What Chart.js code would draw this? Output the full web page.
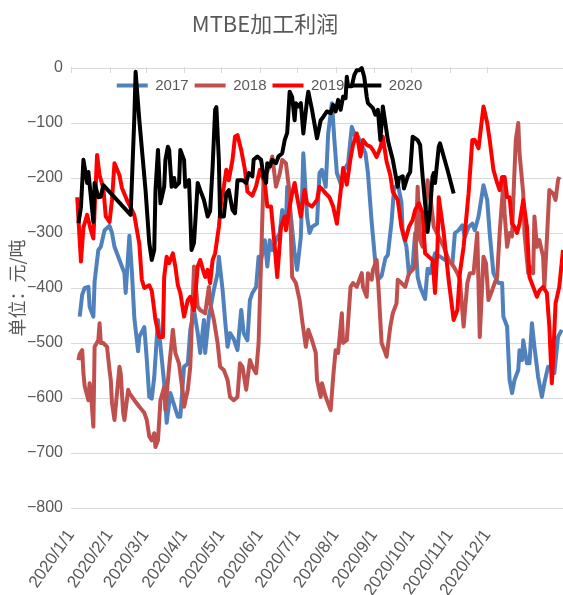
<!DOCTYPE html>
<html><head><meta charset="utf-8">
<script src="https://cdn.jsdelivr.net/npm/chart.js@4"></script>
<style>html,body{margin:0;padding:0;background:#fff;overflow:hidden}</style>
</head><body>
<canvas id="c" width="563" height="595"></canvas>
<script>
const chartTitle = 'MTBE加工利润';
const yAxisTitle = '单位：元/吨';
const seriesNames = ['2017', '2018', '2019', '2020'];
const seriesColors = ['#4F81BD', '#C0504D', '#FF0000', '#000000'];
// day offsets from Jan 1 of the month starts (category ticks)
const monthStarts = [0, 31, 60, 91, 121, 152, 182, 213, 244, 274, 305, 335];
const tickLabels = ['2020/1/1','2020/2/1','2020/3/1','2020/4/1','2020/5/1','2020/6/1','2020/7/1','2020/8/1','2020/9/1','2020/10/1','2020/11/1','2020/12/1'];

const days2017 = [7,9,11,14,15,18,19,22,24,26,27,31,33,35,39,43,44,47,49,51,54,55,59,61,63,65,67,70,72,75,77,80,84,86,88,91,94,96,99,102,104,107,108,111,112,115,118,119,122,124,126,128,131,134,137,139,142,144,146,149,151,153,156,158,160,162,165,168,170,173,174,177,180,182,185,187,190,192,194,198,200,202,205,207,210,212,214,218,220,223,226,229,231,234,237,239,242,245,247,250,253,255,258,260,263,266,267,270,272,275,277,279,281,285,287,289,293,297,301,307,309,312,315,317,320,323,325,328,332,335,337,340,344,347,348,351,353,355,357,360,361,363,364,367,369,371,373,376,379,381,384,387,389,392,395];
const vals2017 = [-452,-412,-400,-398,-434,-452,-388,-331,-325,-305,-295,-287,-300,-325,-349,-373,-409,-305,-370,-455,-515,-489,-471,-530,-598,-601,-562,-458,-505,-573,-645,-591,-620,-634,-634,-543,-538,-476,-440,-482,-518,-458,-518,-452,-440,-403,-373,-343,-403,-458,-507,-482,-493,-513,-440,-482,-495,-422,-409,-398,-343,-349,-313,-361,-313,-331,-313,-300,-258,-289,-216,-270,-337,-367,-307,-155,-270,-300,-289,-283,-191,-185,-216,-119,-64,-131,-191,-216,-185,-173,-107,-125,-125,-140,-155,-191,-280,-355,-385,-378,-346,-340,-280,-220,-210,-245,-300,-325,-375,-358,-300,-380,-398,-420,-365,-373,-337,-343,-349,-355,-300,-295,-286,-307,-289,-283,-295,-270,-213,-240,-300,-373,-391,-391,-452,-470,-567,-591,-567,-549,-513,-531,-495,-537,-537,-464,-507,-562,-598,-573,-543,-543,-555,-489,-476];

const days2018 = [6,7,9,10,11,14,15,16,18,19,22,23,24,26,29,31,32,33,35,39,40,42,43,46,47,51,55,59,61,63,65,67,68,70,72,75,76,79,82,84,87,90,91,94,96,99,102,104,108,111,112,115,118,120,123,126,128,131,134,136,138,141,144,146,149,151,153,155,157,160,162,165,168,170,173,176,178,181,184,186,189,191,194,197,198,201,202,205,209,211,213,215,218,219,222,225,227,230,234,235,238,239,242,243,246,247,250,253,254,257,259,262,263,266,269,272,275,277,279,281,283,285,287,289,292,296,300,304,308,311,313,316,319,321,324,327,329,332,334,336,339,341,343,345,348,349,351,353,355,356,358,360,361,364,365,368,369,372,373,375,377,380,381,383,385,388,390,392,393];
const vals2018 = [-531,-520,-513,-555,-578,-604,-573,-589,-652,-507,-495,-464,-500,-500,-507,-549,-567,-609,-640,-543,-555,-627,-640,-585,-591,-604,-616,-627,-640,-670,-677,-664,-689,-677,-604,-580,-622,-543,-476,-518,-538,-591,-616,-585,-543,-361,-434,-440,-446,-398,-428,-458,-500,-543,-549,-567,-598,-604,-598,-537,-543,-585,-531,-543,-555,-500,-349,-198,-192,-179,-161,-216,-192,-167,-173,-228,-380,-391,-422,-458,-507,-476,-495,-518,-567,-598,-573,-598,-622,-562,-513,-518,-446,-500,-495,-398,-391,-398,-373,-398,-416,-373,-385,-367,-349,-380,-500,-518,-525,-470,-446,-428,-385,-391,-398,-373,-367,-361,-216,-313,-325,-276,-204,-228,-289,-307,-325,-349,-361,-373,-385,-470,-391,-373,-373,-300,-489,-343,-355,-422,-404,-391,-380,-300,-209,-264,-325,-300,-306,-240,-131,-100,-155,-228,-300,-373,-361,-373,-270,-325,-313,-343,-398,-313,-222,-228,-240,-204,-198];

const days2019 = [5,8,10,13,16,18,21,23,26,28,31,33,35,39,41,45,49,51,55,57,59,63,65,67,68,71,74,75,77,79,82,84,86,88,91,94,96,99,102,104,107,108,110,112,114,116,119,121,123,125,127,130,132,134,137,140,142,146,149,152,156,158,161,164,166,169,172,173,176,178,180,182,185,188,190,194,198,200,202,205,208,211,214,217,219,222,225,227,230,233,235,238,241,243,246,249,251,254,257,259,263,266,269,272,275,277,280,283,285,288,291,293,295,296,300,304,308,311,313,316,320,323,325,328,332,335,337,340,343,345,347,349,351,353,355,357,359,361,364,367,369,372,375,377,380,383,385,387,388,390,393,396];
const vals2019 = [-235,-352,-290,-267,-295,-310,-158,-195,-218,-270,-280,-240,-173,-195,-218,-240,-258,-268,-320,-385,-400,-395,-405,-440,-458,-489,-489,-380,-343,-355,-337,-361,-395,-409,-452,-422,-416,-440,-361,-349,-373,-380,-367,-391,-349,-337,-289,-240,-216,-185,-204,-167,-125,-122,-149,-185,-225,-232,-215,-185,-209,-252,-252,-325,-380,-289,-270,-295,-252,-228,-209,-235,-270,-222,-246,-252,-240,-216,-220,-228,-235,-252,-283,-225,-182,-212,-164,-140,-119,-161,-131,-140,-143,-149,-162,-145,-125,-170,-195,-225,-240,-290,-313,-289,-276,-258,-246,-264,-337,-343,-349,-409,-325,-235,-300,-386,-458,-440,-373,-325,-228,-131,-131,-146,-70,-100,-131,-185,-209,-222,-198,-198,-235,-235,-283,-289,-300,-283,-240,-289,-380,-398,-416,-405,-398,-409,-470,-573,-531,-428,-398,-331];

const days2020 = [6,8,10,13,14,18,19,22,24,26,48,51,52,55,60,63,65,67,68,70,72,75,76,78,79,81,83,84,87,88,91,92,95,97,99,102,104,107,110,112,114,116,117,119,120,123,125,127,130,132,134,138,141,143,146,147,150,153,155,157,158,160,162,165,167,170,172,174,176,178,180,181,183,185,187,190,191,194,198,201,203,206,209,211,213,215,217,219,221,222,223,226,228,230,232,234,236,238,239,243,245,247,249,251,253,255,257,259,263,264,267,268,271,273,275,279,281,283,286,287,289,291,292,293,296,297,300,303,308];
const vals2020 = [-282,-253,-167,-209,-189,-280,-209,-235,-234,-213,-267,-89,-7,-95,-222,-318,-349,-331,-222,-149,-246,-216,-167,-143,-149,-216,-200,-216,-209,-149,-167,-216,-204,-331,-318,-209,-222,-240,-270,-260,-179,-76,-71,-167,-270,-270,-228,-222,-258,-264,-204,-204,-209,-191,-197,-167,-161,-167,-197,-209,-173,-179,-167,-173,-161,-155,-131,-118,-43,-53,-95,-64,-70,-64,-119,-58,-43,-76,-128,-95,-89,-79,-82,-67,-79,-58,-76,-52,-55,-16,-33,-33,-13,-4,-4,0,-16,-52,-64,-73,-85,-76,-131,-70,-100,-131,-149,-167,-216,-200,-197,-219,-197,-189,-125,-131,-140,-197,-270,-298,-258,-197,-191,-209,-143,-137,-161,-185,-228];

const allDays = [days2017, days2018, days2019, days2020];
const allVals = [vals2017, vals2018, vals2019, vals2020];

const TEXT = '#595959';
const NARROW = '"Liberation Sans Narrow", "Arial Narrow", "Liberation Sans", sans-serif';

const tickMarks = {
  id: 'tickMarks',
  beforeDatasetsDraw(chart) {
    const {ctx, scales: {x, y}} = chart;
    const y0 = y.getPixelForValue(0);
    ctx.save();
    ctx.strokeStyle = '#D9D9D9';
    ctx.lineWidth = 1;
    monthStarts.forEach(v => {
      const px = Math.round(x.getPixelForValue(v)) + 0.5;
      ctx.beginPath(); ctx.moveTo(px, y0 - 1); ctx.lineTo(px, y0 + 5); ctx.stroke();
    });
    ctx.restore();
  }
};

const customTitle = {
  id: 'customTitle',
  afterDraw(chart) {
    const ctx = chart.ctx;
    ctx.save();
    ctx.fillStyle = TEXT;
    ctx.font = '22px "Liberation Sans Narrow", "Noto Sans CJK SC", sans-serif';
    ctx.textAlign = 'center';
    ctx.textBaseline = 'middle';
    ctx.fillText(chartTitle, 265, 24);
    ctx.restore();
  }
};

const legendInside = {
  id: 'legendInside',
  afterInit(chart) {
    const lg = chart.legend;
    const fit = lg.fit;
    lg.fit = function () { fit.call(this); this.height = 0; };
  },
  afterLayout(chart) {
    const lg = chart.legend;
    lg.left -= 12; lg.right -= 12;
    lg.top += 4; lg.height = 30; lg.bottom = lg.top + 30;
  }
};

new Chart(document.getElementById('c'), {
  type: 'line',
  data: {
    datasets: seriesNames.map((name, k) => ({
      label: name,
      data: allDays[k].map((d, i) => ({x: d, y: allVals[k][i]})),
      borderColor: seriesColors[k],
      backgroundColor: seriesColors[k],
      borderWidth: 4,
      pointRadius: 0,
      tension: 0,
      fill: false,
      clip: false,
      borderJoinStyle: 'round',
      order: 4 - k
    }))
  },
  options: {
    responsive: false,
    animation: false,
    devicePixelRatio: 1,
    layout: {padding: {top: 68, left: 0, right: 0, bottom: 0}},
    plugins: {
      legend: {
        display: true, position: 'top', align: 'center',
        labels: {usePointStyle: true, pointStyle: 'line', pointStyleWidth: 31, boxHeight: 15,
                 padding: 6, color: TEXT, font: {family: NARROW, size: 15},
                 sort: (a, b) => a.datasetIndex - b.datasetIndex}
      },
      title: {display: false},
      tooltip: {enabled: false}
    },
    scales: {
      x: {
        type: 'linear', min: 0, max: 396,
        grid: {display: false}, border: {display: false},
        afterBuildTicks: s => { s.ticks = monthStarts.map(v => ({value: v})); },
        afterFit: s => { s.height = 87; },
        ticks: {autoSkip: false, minRotation: 55, maxRotation: 55, padding: 10, color: TEXT,
                font: {family: NARROW, size: 17}, callback: (v, i) => tickLabels[i]}
      },
      y: {
        min: -800, max: 0,
        afterFit: s => { s.width = 71; },
        ticks: {stepSize: 100, padding: 8, color: TEXT, font: {family: NARROW, size: 16},
                callback: v => v < 0 ? '\u2212' + Math.abs(v) : String(v)},
        grid: {color: '#D9D9D9', drawTicks: false, lineWidth: 1},
        border: {display: false},
        title: {display: true, text: yAxisTitle, color: TEXT,
                font: {family: '"Noto Sans CJK SC", sans-serif', size: 18}, padding: {top: 6, bottom: 0}}
      }
    }
  },
  plugins: [tickMarks, customTitle, legendInside]
});
</script>
</body></html>
